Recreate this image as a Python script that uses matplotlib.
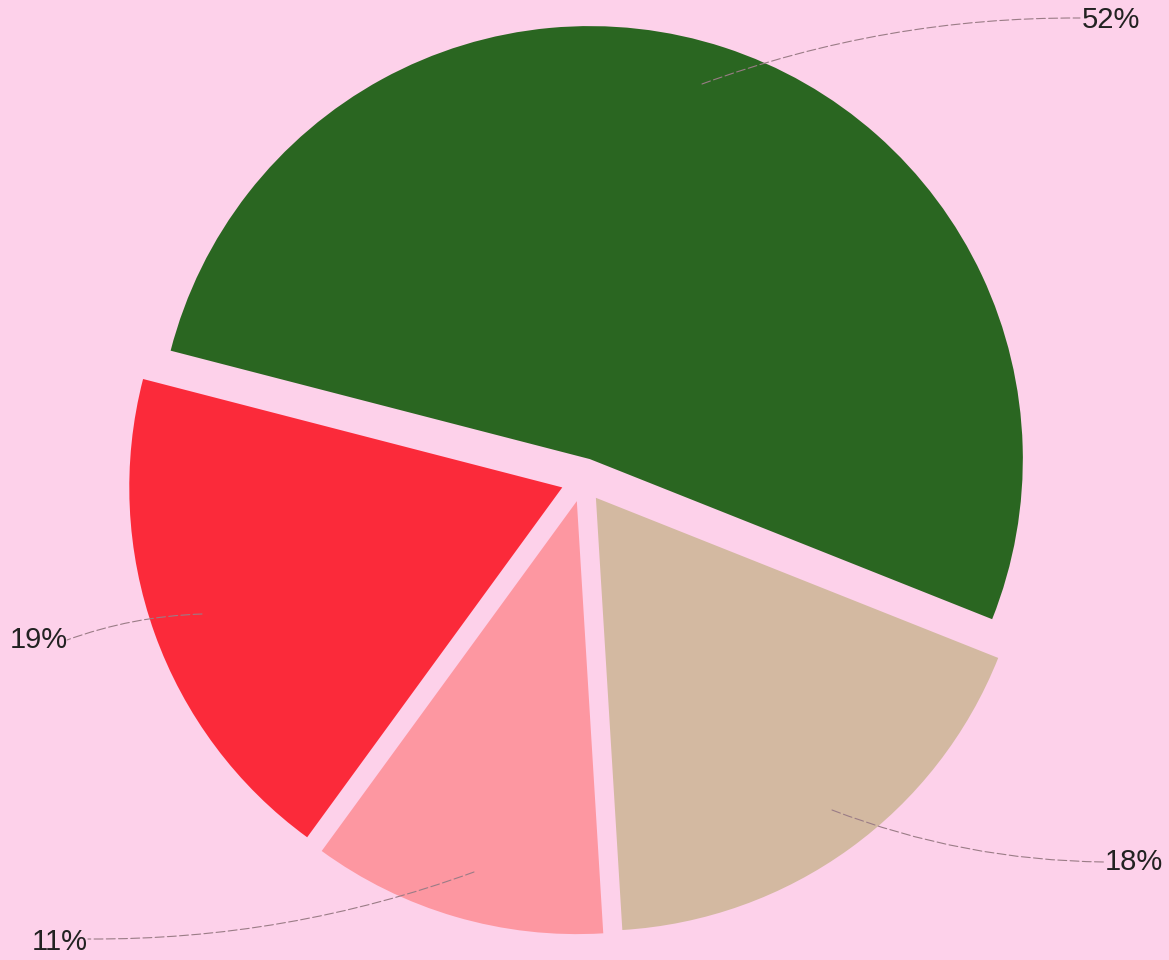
import matplotlib.pyplot as plt

# slice shares, clockwise from the upper-left edge
labels = ['52%', '18%', '11%', '19%']
shares = [52, 18, 11, 19]
colors = ['#2a6621', '#d3b9a1', '#fd97a1', '#fb2a3a']

# leader lines: start point inside the slice, end point next to the text (pixel coords, y down)
line_start = [(702, 84), (832, 810), (474, 872), (202, 614)]
line_end = [(1080, 18), (1104, 862), (88, 939), (67, 640)]
text_pos = [(1111, 20), (1134, 862), (60, 942), (39, 640)]
curve = [-0.09, 0.09, -0.09, 0.08]

W, H = 1169, 960
bg = '#fdd1ea'

fig = plt.figure(figsize=(W / 100, H / 100), dpi=100, facecolor=bg)
ax = fig.add_axes([0, 0, 1, 1])
ax.set_facecolor(bg)

r = 433
ax.pie(shares, colors=colors, startangle=165.5, counterclock=False,
       center=(583, H - 480), radius=r, explode=[22] * 4,
       wedgeprops=dict(linewidth=0), frame=True)
ax.set_xlim(0, W)
ax.set_ylim(0, H)
ax.set_aspect('equal')
ax.axis('off')

for lab, s, e, t, rad in zip(labels, line_start, line_end, text_pos, curve):
    ax.annotate('', xy=(e[0], H - e[1]), xytext=(s[0], H - s[1]),
                arrowprops=dict(arrowstyle='-', color='#9a7c86', lw=0.8,
                                linestyle=(0, (8, 3)),
                                connectionstyle=f'arc3,rad={rad}',
                                shrinkA=0, shrinkB=0))
    ax.text(t[0], H - t[1], lab, ha='center', va='center', fontsize=21,
            color='#222222', family=['Liberation Sans', 'DejaVu Sans'])

fig.savefig('out.png', dpi=100, facecolor=bg)
